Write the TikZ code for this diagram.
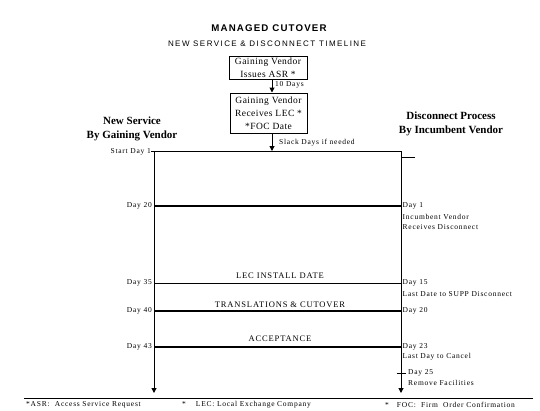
\documentclass[tikz,border=0pt]{standalone}
\usepackage{fontspec}
\usetikzlibrary{arrows.meta}
\newfontfamily\lblfont[LetterSpace=10]{Liberation Serif}
\newfontfamily\boxfont[LetterSpace=5]{Liberation Serif}
\newfontfamily\headfont{Liberation Serif}
\newfontfamily\titlefont[LetterSpace=12]{Liberation Sans}
\newfontfamily\subtfont[LetterSpace=18]{Liberation Sans}
\tikzset{
  lbl/.style={font=\lblfont\fontsize{7.5}{9}\selectfont, inner sep=0pt},
  lbll/.style={lbl, anchor=east},
  lblr/.style={lbl, anchor=west},
  caplbl/.style={font=\lblfont\fontsize{8.5}{10}\selectfont, inner sep=0pt},
  head/.style={font=\headfont\bfseries\fontsize{11}{14}\selectfont, align=center, inner sep=0pt},
  vbox/.style={draw, line width=1pt, align=center, inner sep=0pt,
    font=\boxfont\fontsize{9.5}{13}\selectfont},
  thinln/.style={line width=1pt},
  thickln/.style={line width=2.6pt},
  arr/.style={-{Triangle[length=5pt,width=5pt]}}
}
\begin{document}
\begin{tikzpicture}[x=1pt,y=-1pt]
\useasboundingbox (0,0) rectangle (540,410);
% titles
\node[font=\titlefont\bfseries\fontsize{9.7}{11}\selectfont, inner sep=0pt] (title) at (269,28.5) {MANAGED CUTOVER};
\node[font=\subtfont\fontsize{8}{10}\selectfont, inner sep=0pt] (subtitle) at (267,43.5) {NEW SERVICE \& DISCONNECT TIMELINE};
% boxes
\node[vbox, minimum width=78pt, minimum height=23pt] (b1) at (268,67.5) {Gaining Vendor\\Issues ASR *};
\node[vbox, minimum width=77pt, minimum height=40pt] (b2) at (268.5,113) {Gaining Vendor\\Receives LEC *\\*FOC Date};
\coordinate (colx) at (272,0);
\draw[thinln, arr] (b1.south -| colx) -- (b2.north -| colx);
\node[lblr] (tendays) at (275,85) {10 Days};
% headers
\node[head] (hl) at (132,129) {New Service\\By Gaining Vendor};
\node[head] (hr) at (451,123.5) {Disconnect Process\\By Incumbent Vendor};
% top line and start
\node[lbll] (sd1) at (151,152) {Start Day 1};
\coordinate (tr) at (401,151);
\draw[thinln] (sd1.east |- tr) -- (tr);
\draw[thinln, arr] (b2.south -| colx) -- (colx |- tr);
\node[lblr] (slack) at (279,143) {Slack Days if needed};
% verticals
\coordinate (ltop) at (154,151);
\coordinate (lbot) at (154,393);
\coordinate (rtop) at (401,151);
\coordinate (rbot) at (401,393);
\draw[thinln, arr] (ltop) -- (lbot);
\draw[thinln, arr] (rtop) -- (rbot);
\coordinate (tick1) at (415,157);
\draw[thinln] (rtop |- tick1) -- (tick1);
% day 20 / day 1
\node[lbll] (l20) at (152,206) {Day 20};
\node[lblr] (r1) at (402.5,206) {Day 1};
\node[lblr] (r1a) at (402.5,216.5) {Incumbent Vendor};
\node[lblr] (r1b) at (402.5,227) {Receives Disconnect};
\draw[thickln] (l20.east -| ltop) -- (r1.west -| rtop);
% day 35 / day 15
\node[lbll] (l35) at (152,283) {Day 35};
\node[lblr] (r15) at (402.5,283) {Day 15};
\node[lblr] (r15a) at (402.5,294) {Last Date to SUPP Disconnect};
\draw[thinln] (l35.east -| ltop) -- (r15.west -| rtop);
\node[caplbl] (lec) at (280,276) {LEC INSTALL DATE};
% day 40 / day 20
\node[lbll] (l40) at (152,311) {Day 40};
\node[lblr] (r20) at (402.5,311) {Day 20};
\draw[thickln] (l40.east -| ltop) -- (r20.west -| rtop);
\node[caplbl] (trans) at (280,305) {TRANSLATIONS \& CUTOVER};
% day 43 / day 23
\node[lbll] (l43) at (152,347) {Day 43};
\node[lblr] (r23) at (402.5,347) {Day 23};
\node[lblr] (r23a) at (402.5,357) {Last Day to Cancel};
\draw[thickln] (l43.east -| ltop) -- (r23.west -| rtop);
\node[caplbl] (acc) at (280,339) {ACCEPTANCE};
% day 25
\node[lblr] (r25) at (408,373) {Day 25};
\node[lblr] (r25a) at (408,383) {Remove Facilities};
\coordinate (t25) at (396.5,373);
\coordinate (t25b) at (405.5,373);
\draw[thinln] (t25) -- (t25b);
% footer
\coordinate (f1) at (24,398.5);
\coordinate (f2) at (533,398.5);
\draw[thinln] (f1) -- (f2);
\node[lblr] (fasr) at (26,405) {*ASR:\ \ Access Service Request};
\node[lblr] (flec) at (182,405) {*\hspace{10pt}LEC:\ Local Exchange Company};
\node[lblr] (ffoc) at (385,405) {*\hspace{8pt}FOC:\ \ Firm\ \ Order Confirmation};
\end{tikzpicture}
\end{document}
